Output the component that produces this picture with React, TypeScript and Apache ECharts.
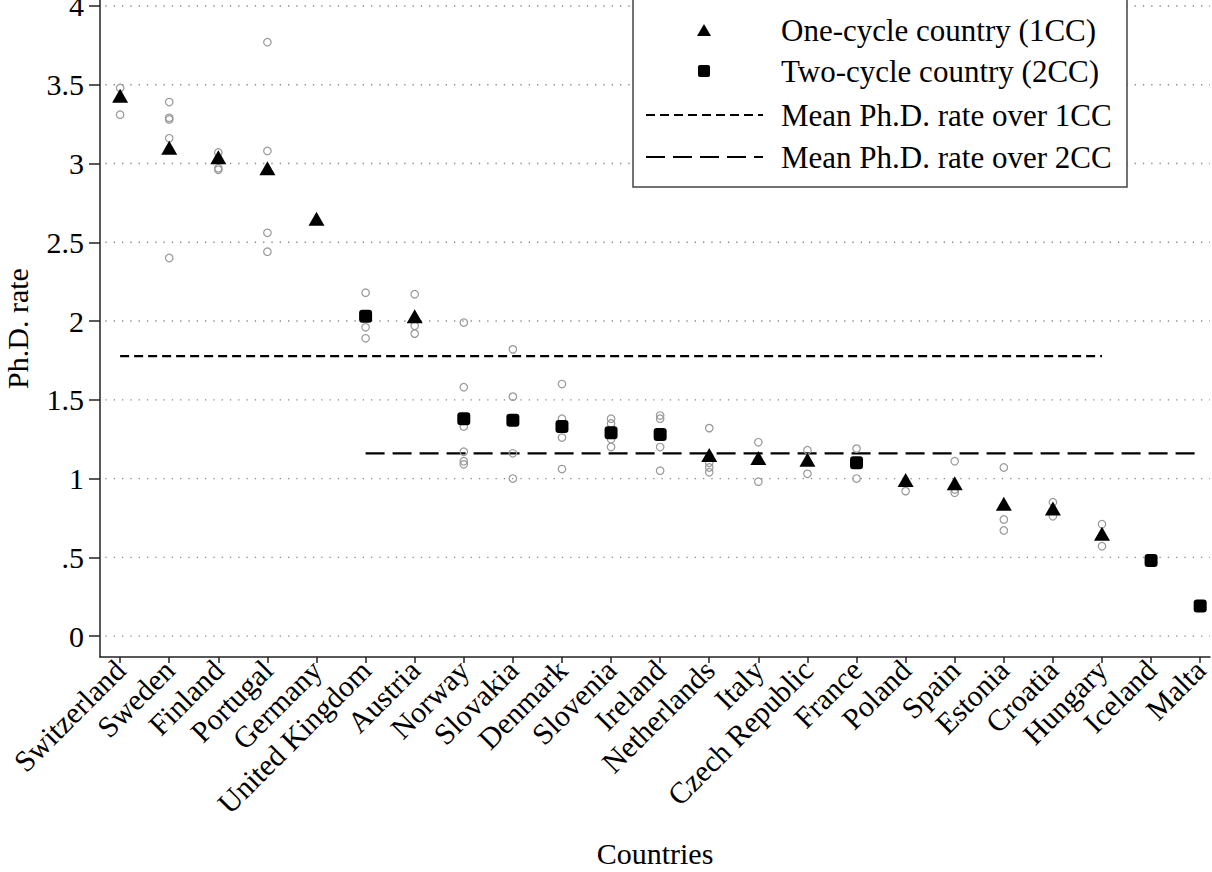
import React, { useEffect, useRef } from "react";
import * as echarts from "echarts";

const countries = ["Switzerland", "Sweden", "Finland", "Portugal", "Germany", "United Kingdom", "Austria", "Norway", "Slovakia", "Denmark", "Slovenia", "Ireland", "Netherlands", "Italy", "Czech Republic", "France", "Poland", "Spain", "Estonia", "Croatia", "Hungary", "Iceland", "Malta"];
const phdRate = [3.43, 3.10, 3.04, 2.97, 2.65, 2.03, 2.03, 1.38, 1.37, 1.33, 1.29, 1.28, 1.15, 1.13, 1.12, 1.10, 0.99, 0.97, 0.84, 0.81, 0.65, 0.48, 0.19];
const cycleType = [1, 1, 1, 1, 1, 2, 1, 2, 2, 2, 2, 2, 1, 1, 1, 2, 1, 1, 1, 1, 1, 2, 2];
const yearlyRates = [
  [3.48, 3.31],
  [3.39, 3.29, 3.28, 3.16, 2.40],
  [3.07, 2.97, 2.96],
  [3.77, 3.08, 2.56, 2.44],
  [],
  [2.18, 2.03, 1.96, 1.89],
  [2.17, 1.97, 1.92],
  [1.99, 1.58, 1.33, 1.17, 1.11, 1.09],
  [1.82, 1.52, 1.16, 1.00],
  [1.60, 1.38, 1.26, 1.06],
  [1.38, 1.35, 1.25, 1.20],
  [1.40, 1.38, 1.20, 1.05],
  [1.32, 1.14, 1.10, 1.07, 1.04],
  [1.23, 0.98],
  [1.18, 1.03],
  [1.19, 1.00],
  [0.92],
  [1.11, 0.93, 0.91],
  [1.07, 0.74, 0.67],
  [0.85, 0.76],
  [0.71, 0.57],
  [],
  [],
];
const mean1CC = 1.777;
const mean2CC = 1.16;
const mean1CCRange = [0, 20];
const mean2CCRange = [5, 22];
const yTicks = [0, 0.5, 1, 1.5, 2, 2.5, 3, 3.5, 4];
const legendLabels = ["One-cycle country (1CC)", "Two-cycle country (2CC)", "Mean Ph.D. rate over 1CC", "Mean Ph.D. rate over 2CC"];

const FONT = "'Liberation Serif', 'Times New Roman', serif";
const FS = 30;

export default function App() {
  const ref = useRef<HTMLDivElement>(null);
  useEffect(() => {
    if (!ref.current) return;
    const chart = echarts.init(ref.current, null, { renderer: "svg" });
    const xIdx = countries.map((_, i) => i);
    const xMin = -0.41;
    const xMax = 22.2;

    const tri = xIdx.filter((i) => cycleType[i] === 1).map((i) => [i, phdRate[i]]);
    const sq = xIdx.filter((i) => cycleType[i] === 2).map((i) => [i, phdRate[i]]);
    const obs: number[][] = [];
    yearlyRates.forEach((arr, i) => arr.forEach((v) => obs.push([i, v])));

    const gridSeries = yTicks.map((t) => ({
      type: "line",
      silent: true,
      symbol: "none",
      z: 1,
      data: [[-0.3, t], [xMax, t]],
      lineStyle: { color: "#888", width: 1.3, type: [1.3, 7] },
    }));

    const lx = 704;
    const rows = [30, 71, 115, 157];

    chart.setOption({
      animation: false,
      backgroundColor: "#fff",
      grid: { left: 100, right: 2, top: 0, bottom: 215, containLabel: false, outerBoundsMode: "none" },
      xAxis: {
        type: "value",
        min: xMin,
        max: xMax,
        name: "Countries",
        nameLocation: "middle",
        nameGap: 181,
        nameTextStyle: { fontFamily: FONT, fontSize: FS, color: "#000" },
        axisLine: { show: true, onZero: false, lineStyle: { color: "#222", width: 1.5 } },
        axisTick: { show: true, customValues: xIdx, length: 6, lineStyle: { color: "#222", width: 1.5 } },
        axisLabel: {
          customValues: xIdx,
          rotate: 45,
          margin: 8,
          fontFamily: FONT,
          fontSize: FS,
          color: "#000",
          formatter: (v: number) => countries[Math.round(v)] ?? "",
        },
        splitLine: { show: false },
      },
      yAxis: {
        type: "value",
        min: -0.133,
        max: 4.038,
        name: "Ph.D. rate",
        nameLocation: "middle",
        nameGap: 68,
        nameRotate: 90,
        nameTextStyle: { fontFamily: FONT, fontSize: FS, color: "#000" },
        axisLine: { show: true, onZero: false, lineStyle: { color: "#222", width: 1.5 } },
        axisTick: { show: true, customValues: yTicks, length: 11, lineStyle: { color: "#222", width: 1.5 } },
        axisLabel: {
          customValues: yTicks,
          margin: 16,
          fontFamily: FONT,
          fontSize: FS,
          color: "#000",
          formatter: (v: number) => (v === 0 ? "0" : v < 1 ? String(v).replace(/^0/, "") : String(v)),
        },
        splitLine: { show: false },
      },
      series: [
        ...gridSeries,
        {
          type: "line",
          name: legendLabels[2],
          symbol: "none",
          z: 3,
          data: [[mean1CCRange[0], mean1CC], [mean1CCRange[1], mean1CC]],
          lineStyle: { color: "#000", width: 2.2, type: [9, 5] },
        },
        {
          type: "line",
          name: legendLabels[3],
          symbol: "none",
          z: 3,
          data: [[mean2CCRange[0], mean2CC], [mean2CCRange[1], mean2CC]],
          lineStyle: { color: "#000", width: 2.2, type: [19, 8] },
        },
        {
          type: "scatter",
          z: 4,
          symbol: "circle",
          symbolSize: 7.5,
          data: obs,
          itemStyle: { color: "rgba(255,255,255,0)", borderColor: "#999", borderWidth: 1.2, opacity: 1 },
        },
        {
          type: "scatter",
          name: legendLabels[0],
          z: 5,
          symbol: "triangle",
          symbolSize: [16, 14],
          data: tri,
          itemStyle: { color: "#000", opacity: 1 },
        },
        {
          type: "scatter",
          name: legendLabels[1],
          z: 5,
          symbol: "roundRect",
          symbolSize: 13,
          data: sq,
          itemStyle: { color: "#000", opacity: 1 },
        },
      ],
      graphic: [
        {
          type: "rect",
          z: 100,
          shape: { x: 633, y: -2, width: 494, height: 189 },
          style: { fill: "#fff", stroke: "#444", lineWidth: 1.5 },
        },
        {
          type: "polygon",
          z: 101,
          shape: { points: [[lx - 7, rows[0] + 6], [lx + 7, rows[0] + 6], [lx, rows[0] - 6]] },
          style: { fill: "#000" },
        },
        {
          type: "rect",
          z: 101,
          shape: { x: lx - 6, y: rows[1] - 6, width: 12, height: 12, r: 2 },
          style: { fill: "#000" },
        },
        {
          type: "line",
          z: 101,
          shape: { x1: 646, y1: rows[2], x2: 763, y2: rows[2] },
          style: { stroke: "#000", lineWidth: 2.2, lineDash: [9, 5] },
        },
        {
          type: "line",
          z: 101,
          shape: { x1: 646, y1: rows[3], x2: 763, y2: rows[3] },
          style: { stroke: "#000", lineWidth: 2.2, lineDash: [19, 8] },
        },
        ...legendLabels.map((t, i) => ({
          type: "text",
          z: 101,
          x: 781,
          y: rows[i],
          style: { text: t, fontFamily: FONT, fontSize: 31, fill: "#000", textVerticalAlign: "middle", textAlign: "left" },
        })),
      ],
    });
    return () => chart.dispose();
  }, []);
  return <div ref={ref} style={{ position: "absolute", left: 0, top: 0, width: 1212, height: 872 }} />;
}
